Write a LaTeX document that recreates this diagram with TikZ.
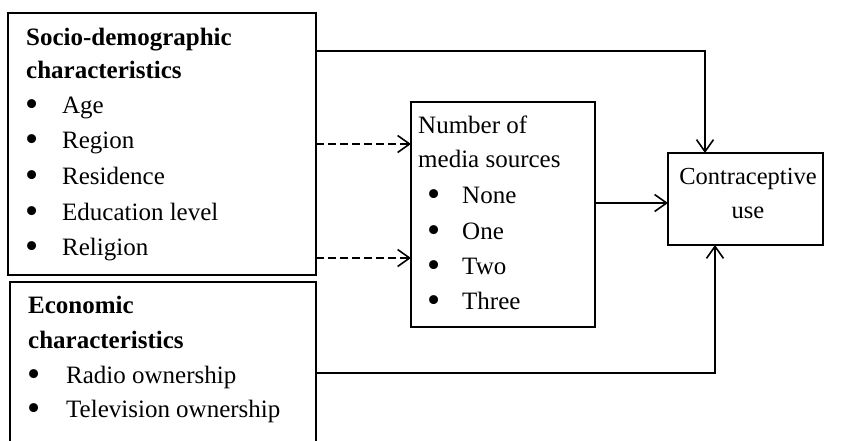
\documentclass[tikz,border=0pt]{standalone}
\usepackage{fontspec}
\setmainfont{Liberation Serif}
\usetikzlibrary{arrows.meta}
\newcommand\bul[1]{\makebox[#1][l]{\raisebox{-3.5pt}{\scalebox{1.5}{•}}}}
\begin{document}
\begin{tikzpicture}[x=1pt,y=-1pt,
  box/.style={draw,line width=1.8pt,inner sep=0pt,outer sep=0pt},
  txt/.style={anchor=base west,inner sep=0pt,font=\fontsize{25}{28}\selectfont},
  btxt/.style={txt,font=\fontsize{25}{28}\selectfont\bfseries},
  ctxt/.style={anchor=base,inner sep=0pt,font=\fontsize{24.5}{28}\selectfont},
  conn/.style={line width=1.6pt,-{Straight Barb[length=12pt,width=17pt,line width=1.6pt]}},
  dconn/.style={conn,dash pattern=on 8pt off 4pt}]
\useasboundingbox (0,0) rectangle (863,440);
\clip (0,0) rectangle (863,440);
\fill[white] (0,0) rectangle (863,440);
% boxes
\node[box,minimum width=308pt,minimum height=262pt] (socio) at (162,144) {};
\node[box,minimum width=306pt,minimum height=178pt] (econ) at (163,371) {};
\node[box,minimum width=184pt,minimum height=225pt] (media) at (503,214.5) {};
\node[box,minimum width=155pt,minimum height=92pt] (contra) at (745.5,199) {};
% socio text
\node[btxt] (s0) at (26,45) {Socio-demographic};
\node[btxt] (s1) at (26,78) {characteristics};
\node[txt] (s2) at (25,113) {\bul{37pt}Age};
\node[txt] (s3) at (25,148) {\bul{37pt}Region};
\node[txt] (s4) at (25,184) {\bul{37pt}Residence};
\node[txt] (s5) at (25,220) {\bul{37pt}Education level};
\node[txt] (s6) at (25,255) {\bul{37pt}Religion};
% econ text
\node[btxt] (e0) at (28,313) {Economic};
\node[btxt] (e1) at (28,348) {characteristics};
\node[txt] (e2) at (27,383) {\bul{39pt}Radio ownership};
\node[txt] (e3) at (27,417) {\bul{39pt}Television ownership};
% media text
\node[txt] (m0) at (418,133) {Number of};
\node[txt] (m1) at (418,167) {media sources};
\node[txt] (m2) at (427,203) {\bul{35pt}None};
\node[txt] (m3) at (427,239) {\bul{35pt}One};
\node[txt] (m4) at (427,274) {\bul{35pt}Two};
\node[txt] (m5) at (427,309) {\bul{35pt}Three};
% contra text
\node[ctxt] (c0) at (748,184) {Contraceptive};
\node[ctxt] (c1) at (748,218) {use};
% connectors
\draw[conn] ([yshift=-38pt]socio.north east) -| ([xshift=-40.5pt]contra.north);
\draw[dconn] (socio.east) -- (socio.east -| media.west);
\coordinate (d2) at ([yshift=17pt]socio.south east);
\draw[dconn] (d2) -- (d2 -| media.west);
\coordinate (mc) at ([yshift=-4pt]contra.west);
\draw[conn] (mc -| media.east) -- (mc);
\draw[conn] ([yshift=-91pt]econ.north east) -| ([xshift=-30.5pt]contra.south);
\end{tikzpicture}
\end{document}
